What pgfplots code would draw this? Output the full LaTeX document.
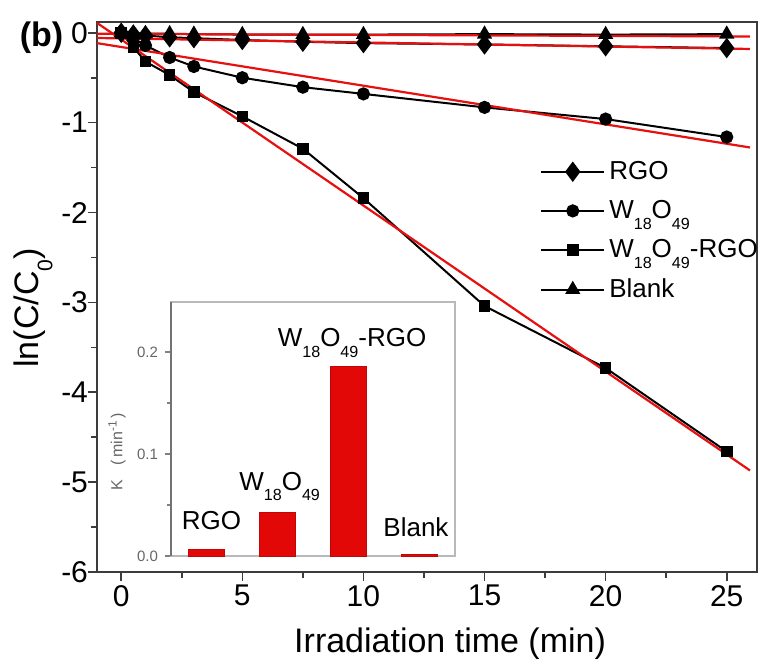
\documentclass[border=0pt]{standalone}
\usepackage{fontspec}
\setmainfont{Liberation Sans}
\usepackage{pgfplots}
\pgfplotsset{compat=1.18}
\definecolor{fitred}{RGB}{230,16,16}
\definecolor{barred}{RGB}{226,8,8}
\definecolor{axgray}{RGB}{60,60,60}
\newcommand{\sub}[1]{\raisebox{-0.42em}{\fontsize{0.62em}{0.7em}\selectfont #1}}
\begin{document}
\begin{tikzpicture}
\begin{axis}[
  at={(0,0)}, anchor=south west,
  scale only axis, width=330pt, height=275pt,
  xmin=-1, xmax=26.25, ymin=-6, ymax=0.12,
  clip=false,
  xtick={0,5,...,25}, ytick={-6,-5,...,0},
  minor x tick num=1, minor y tick num=1,
  tick align=outside, major tick length=4.5pt, minor tick length=3pt,
  tick pos=left,
  axis line style={axgray, line width=1pt},
  every tick/.style={axgray, line width=0.8pt},
  /pgf/number format/assume math mode=true,
  tick label style={font=\fontsize{15}{18}\selectfont},
  yticklabel style={xshift=3.5pt},
  xticklabel style={yshift=1.5pt},
  xlabel={Irradiation time (min)}, ylabel={ln(C/C\sub{0})},
  label style={font=\fontsize{17}{20}\selectfont},
  xlabel style={at={(axis description cs:0.535,-0.1455)}, anchor=base},
  ylabel style={at={(axis description cs:-0.097,0.48)}, anchor=center},
  legend style={at={(axis description cs:0.671,0.755)}, anchor=north west, draw=none, fill=none,
    font=\fontsize{13}{15}\selectfont, row sep=5pt, inner sep=0pt},
  legend cell align=left,
  legend image code/.code={\draw[mark repeat=2,mark phase=2,#1] plot coordinates {(0pt,0pt) (15.75pt,0pt) (31.5pt,0pt)};},
]
\addplot[black, line width=1pt, mark=diamond*, mark size=4.3pt, mark options={solid}] coordinates {
(0,0) (0.5,-0.02) (1,-0.03) (2,-0.05) (3,-0.06) (5,-0.08) (7.5,-0.10) (10,-0.115) (15,-0.13) (20,-0.15) (25,-0.17)};
\addlegendentry{RGO}
\addplot[black, line width=1pt, mark=*, mark size=2.8pt, mark options={solid}] coordinates {
(0,0) (0.5,-0.06) (1,-0.14) (2,-0.275) (3,-0.375) (5,-0.50) (7.5,-0.605) (10,-0.68) (15,-0.83) (20,-0.96) (25,-1.16)};
\addlegendentry{W\sub{18}O\sub{49}}
\addplot[black, line width=1pt, mark=square*, mark size=2.4pt, mark options={solid}] coordinates {
(0,0) (0.5,-0.16) (1,-0.32) (2,-0.47) (3,-0.66) (5,-0.93) (7.5,-1.29) (10,-1.84) (15,-3.04) (20,-3.73) (25,-4.66)};
\addlegendentry{W\sub{18}O\sub{49}-RGO}
\addplot[black, line width=1pt, mark=triangle*, mark size=3.4pt, mark options={solid}] coordinates {
(0,0) (0.5,-0.005) (1,-0.01) (2,-0.01) (3,-0.015) (5,-0.02) (7.5,-0.02) (10,-0.02) (15,-0.015) (20,-0.02) (25,-0.015)};
\addlegendentry{Blank}
% linear fits
\addplot[fitred, line width=1.1pt, forget plot] coordinates {(-1,0.11) (25.96,-4.87)};
\addplot[fitred, line width=1.1pt, forget plot] coordinates {(-1,-0.115) (25.96,-1.276)};
\addplot[fitred, line width=1.1pt, forget plot] coordinates {(-1,-0.058) (25.96,-0.18)};
\addplot[fitred, line width=1.1pt, forget plot] coordinates {(-1,-0.011) (25.96,-0.041)};
\node[font=\bfseries\fontsize{17}{20}\selectfont] at (rel axis cs:-0.084,0.972) {(b)};
\end{axis}
\begin{axis}[
  at={(37pt,8pt)}, anchor=south west,
  scale only axis, width=142pt, height=127pt,
  xmin=-0.5, xmax=3.5, ymin=0, ymax=0.249,
  xtick=\empty, ytick={0,0.1,0.2}, minor y tick num=1,
  ytick pos=left, tick align=outside, major tick length=3pt, minor tick length=2pt,
  axis line style={gray!55, line width=0.6pt},
  every tick/.style={gray, line width=0.6pt},
  /pgf/number format/assume math mode=true,
  yticklabel style={font=\fontsize{7.5}{9}\selectfont, text=gray!80!black,
    /pgf/number format/.cd, fixed, zerofill, precision=1},
  ylabel={K\hspace{0.9em}(\hspace{0.15em}min\textsuperscript{-1}\hspace{0.1em})},
  ylabel style={font=\fontsize{8}{9}\selectfont, text=gray!80!black, at={(axis description cs:-0.19,0.41)}, anchor=center},
  ybar, bar width=0.5, clip=false,
]
\addplot[fill=barred, draw=barred!85!black, line width=0.3pt] coordinates {(0,0.0066) (1,0.043) (2,0.186) (3,0.0015)};
\draw[gray!90!black, line width=0.7pt] (rel axis cs:0,0) -- (rel axis cs:0,1);
\node[anchor=base, font=\fontsize{13}{15}\selectfont] at (axis cs:0.07,0.0255) {RGO};
\node[anchor=base, font=\fontsize{13}{15}\selectfont] at (axis cs:1.03,0.0647) {W\sub{18}O\sub{49}};
\node[anchor=base, font=\fontsize{13}{15}\selectfont] at (axis cs:2.05,0.205) {W\sub{18}O\sub{49}-RGO};
\node[anchor=base, font=\fontsize{13}{15}\selectfont] at (axis cs:2.95,0.019) {Blank};
\end{axis}
\pgfresetboundingbox
\path[use as bounding box] (-48.5pt,-47pt) rectangle (341.5pt,286pt);
\end{tikzpicture}
\end{document}
